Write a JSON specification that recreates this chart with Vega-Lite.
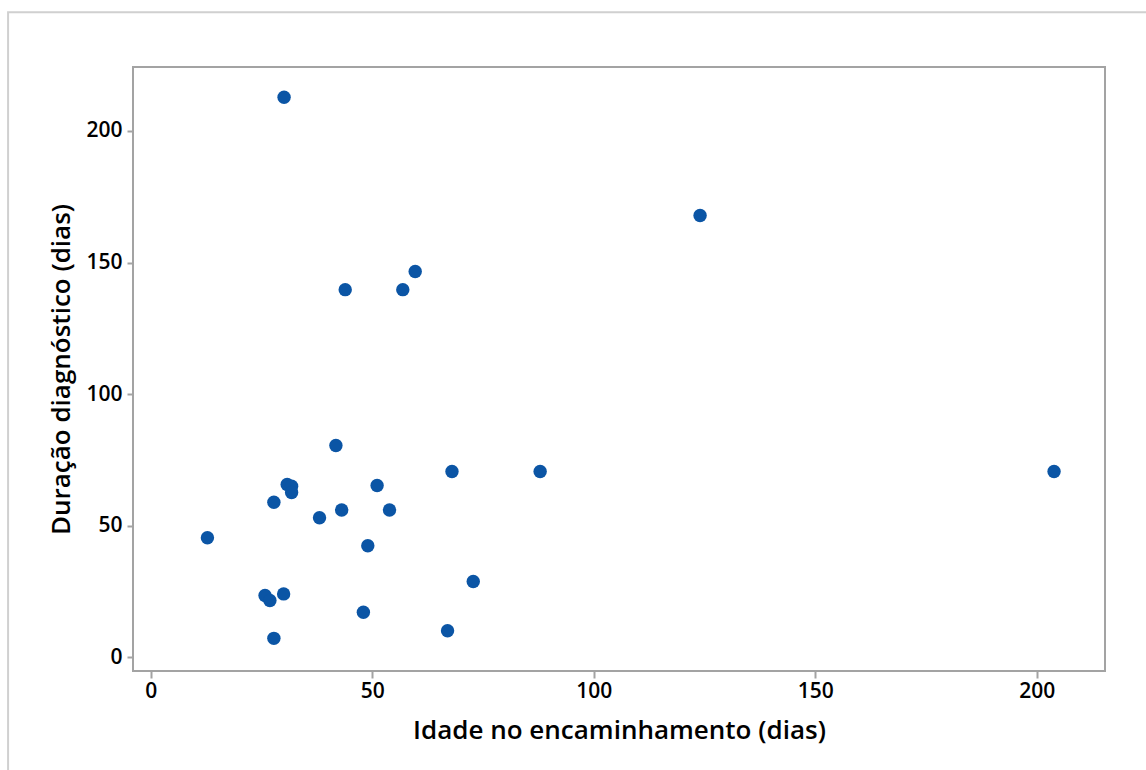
{
  "$schema": "https://vega.github.io/schema/vega-lite/v6.json",
  "autosize": {"type": "none"},
  "width": 972,
  "height": 604,
  "padding": {"left": 133, "top": 67, "right": 41, "bottom": 99},
  "background": "white",
  "config": {
    "font": "Open Sans",
    "view": {"stroke": "#a3a3a3", "strokeWidth": 2}
  },
  "layer": [
    {
      "data": {
        "values": [
          {"idade": 30.1, "duracao": 212.8},
          {"idade": 124.0, "duracao": 167.9},
          {"idade": 59.7, "duracao": 146.6},
          {"idade": 43.9, "duracao": 139.7},
          {"idade": 56.9, "duracao": 139.7},
          {"idade": 41.8, "duracao": 80.5},
          {"idade": 68.0, "duracao": 70.6},
          {"idade": 87.9, "duracao": 70.6},
          {"idade": 203.9, "duracao": 70.6},
          {"idade": 30.8, "duracao": 65.7},
          {"idade": 31.8, "duracao": 65.0},
          {"idade": 31.8, "duracao": 62.6},
          {"idade": 51.1, "duracao": 65.3},
          {"idade": 27.8, "duracao": 58.9},
          {"idade": 38.1, "duracao": 53.0},
          {"idade": 43.1, "duracao": 56.0},
          {"idade": 53.9, "duracao": 56.0},
          {"idade": 12.8, "duracao": 45.4},
          {"idade": 49.0, "duracao": 42.4},
          {"idade": 72.8, "duracao": 28.8},
          {"idade": 25.8, "duracao": 23.5},
          {"idade": 26.9, "duracao": 21.6},
          {"idade": 30.0, "duracao": 24.1},
          {"idade": 48.0, "duracao": 17.1},
          {"idade": 27.8, "duracao": 7.2},
          {"idade": 67.0, "duracao": 10.1}
        ]
      },
      "mark": {"type": "point", "filled": true, "opacity": 1, "size": 180, "color": "#0b55a5"},
      "encoding": {
        "x": {
          "field": "idade",
          "type": "quantitative",
          "scale": {"domain": [-4, 215.4], "nice": false, "zero": false},
          "axis": {
            "title": "Idade no encaminhamento (dias)",
            "values": [0, 50, 100, 150, 200],
            "grid": false,
            "domain": false,
            "tickSize": 7,
            "tickWidth": 2,
            "tickColor": "#a3a3a3",
            "labelFontSize": 21,
            "labelFontWeight": 600,
            "labelColor": "#000000",
            "labelPadding": 2,
            "titleFontSize": 26,
            "titleFontWeight": 600,
            "titleColor": "#000000",
            "titlePadding": 16
          }
        },
        "y": {
          "field": "duracao",
          "type": "quantitative",
          "scale": {"domain": [-5.2, 224.3], "nice": false, "zero": false},
          "axis": {
            "title": "Duração diagnóstico (dias)",
            "values": [0, 50, 100, 150, 200],
            "grid": false,
            "domain": false,
            "tickSize": 6,
            "tickWidth": 2,
            "tickColor": "#a3a3a3",
            "labelFontSize": 21,
            "labelFontWeight": 600,
            "labelColor": "#000000",
            "labelPadding": 5,
            "titleFontSize": 26,
            "titleFontWeight": 600,
            "titleColor": "#000000",
            "titlePadding": 11
          }
        }
      }
    },
    {
      "data": {"values": [{}]},
      "mark": {"type": "rect", "fillOpacity": 0, "stroke": "#d0d0d0", "strokeWidth": 2},
      "encoding": {
        "x": {"datum": -32.2, "type": "quantitative"},
        "x2": {"datum": 232},
        "y": {"datum": 245.1, "type": "quantitative"},
        "y2": {"datum": -50}
      }
    }
  ]
}
